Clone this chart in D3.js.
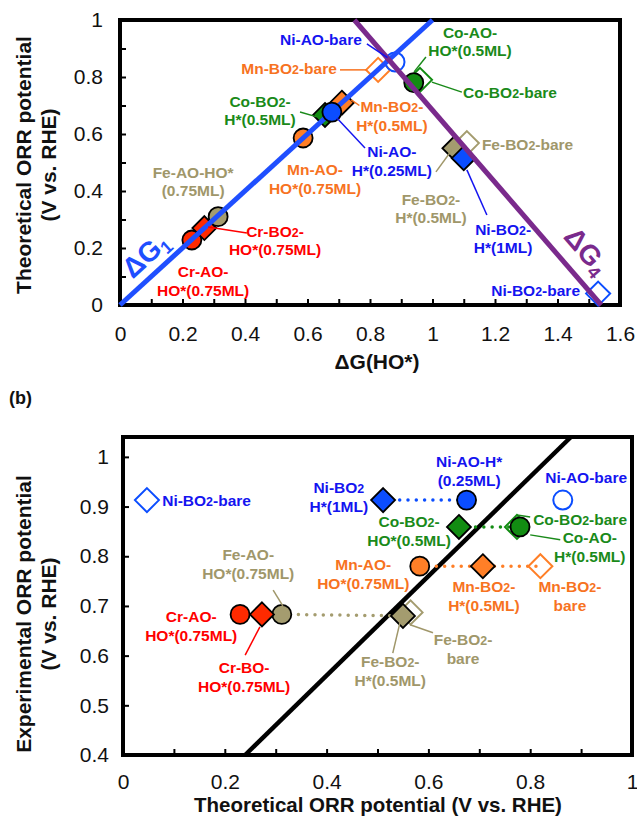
<!DOCTYPE html>
<html>
<head>
<meta charset="utf-8">
<script src="https://cdn.jsdelivr.net/npm/d3@7"></script>
<style>
  body { margin: 0; background: #fff; }
  svg { display: block; font-family: Arial, "Liberation Sans", sans-serif; }
</style>
</head>
<body>
<div id="chart"></div>
<script>
// ---- panel (a): theoretical ORR potential vs dG(HO*) ----
const namesA = ["Cr-AO-HO*", "Cr-BO2-HO*", "Fe-AO-HO*", "Mn-AO-HO*", "Co-BO2-H*", "Mn-BO2-H*",
                "Ni-AO-H*", "Mn-BO2-bare", "Ni-AO-bare", "Co-BO2-bare", "Co-AO-HO*", "Fe-BO2-bare",
                "Fe-BO2-H*", "Ni-BO2-H*", "Ni-BO2-bare"];
const metalA = ["Cr", "Cr", "Fe", "Mn", "Co", "Mn", "Ni", "Mn", "Ni", "Co", "Co", "Fe", "Fe", "Ni", "Ni"];
const markA  = ["circle", "diamond", "circle", "circle", "diamond", "diamond", "circle", "diamond",
                "circle", "diamond", "circle", "diamond", "diamond", "diamond", "diamond"];
const openA  = [false, false, false, false, false, false, false, true, true, true, false, true, false, false, true];
const dGHO   = [0.23, 0.27, 0.314, 0.586, 0.656, 0.71, 0.678, 0.826, 0.88, 0.96, 0.94, 1.11, 1.07, 1.10, 1.53];
const theoA  = [0.228, 0.27, 0.31, 0.586, 0.667, 0.71, 0.677, 0.825, 0.853, 0.79, 0.78, 0.568, 0.55, 0.515, 0.04];

const lineG1 = [[0, 0], [1, 1]];
const lineG4 = [[0.75, 1], [1.54, 0]];
const xTicksA = [0, 0.1, 0.2, 0.3, 0.4, 0.5, 0.6, 0.7, 0.8, 0.9, 1, 1.1, 1.2, 1.3, 1.4, 1.5, 1.6];
const yTicksA = [0, 0.1, 0.2, 0.3, 0.4, 0.5, 0.6, 0.7, 0.8, 0.9, 1];

// ---- panel (b): experimental vs theoretical ORR potential ----
const namesB = ["Ni-BO2-bare", "Ni-BO2-H*", "Ni-AO-H*", "Ni-AO-bare", "Co-BO2-bare", "Co-BO2-HO*",
                "Co-AO-H*", "Mn-BO2-bare", "Mn-AO-HO*", "Mn-BO2-H*", "Fe-BO2-bare", "Fe-AO-HO*",
                "Fe-BO2-H*", "Cr-AO-HO*", "Cr-BO-HO*"];
const metalB = ["Ni", "Ni", "Ni", "Ni", "Co", "Co", "Co", "Mn", "Mn", "Mn", "Fe", "Fe", "Fe", "Cr", "Cr"];
const markB  = ["diamond", "diamond", "circle", "circle", "diamond", "diamond", "circle", "diamond",
                "circle", "diamond", "diamond", "circle", "diamond", "circle", "diamond"];
const openB  = [true, false, false, true, true, false, false, true, false, false, true, false, false, false, false];
const theoB  = [0.047, 0.511, 0.675, 0.864, 0.774, 0.66, 0.78, 0.82, 0.583, 0.707, 0.565, 0.312, 0.55, 0.23, 0.273];
const expB   = [0.913, 0.913, 0.913, 0.913, 0.859, 0.859, 0.859, 0.78, 0.78, 0.78, 0.687, 0.683, 0.68, 0.683, 0.683];
// dotted connectors (indices into the B arrays)
const dottedB = [[1, 2], [5, 6], [8, 9, 7], [11, 12]];
const lineB = [[0.24, 0.4], [0.88, 1.04]];
const xTicksB = [0, 0.1, 0.2, 0.3, 0.4, 0.5, 0.6, 0.7, 0.8, 0.9, 1];
const yTicksB = [0.4, 0.5, 0.6, 0.7, 0.8, 0.9, 1];

const fillC = { Cr: "#ff2a00", Fe: "#a49c6f", Mn: "#ff7f27", Co: "#128c12", Ni: "#0b4dff" };
const textC = { Cr: "#ff0000", Fe: "#a0976a", Mn: "#f7731f", Co: "#1a8a1a", Ni: "#1414f0" };

// label annotations, in data units: lines, anchor point, text-anchor, leader line
const notesA = [
  { m: "Ni", t: ["Ni-AO-bare"], x: 0.643, y: 0.912, a: "middle", l: [0.790, 0.916, 0.856, 0.868] },
  { m: "Mn", t: ["Mn-BO2-bare"], x: 0.541, y: 0.811, a: "middle", l: [0.704, 0.825, 0.79, 0.825] },
  { m: "Co", t: ["Co-AO-", "HO*(0.5ML)"], x: 1.12, y: 0.937, a: "middle", l: [0.979, 0.870, 0.941, 0.818] },
  { m: "Co", t: ["Co-BO2-bare"], x: 1.248, y: 0.726, a: "middle", l: [1.094, 0.747, 0.998, 0.782] },
  { m: "Mn", t: ["Mn-BO2-", "H*(0.5ML)"], x: 0.87, y: 0.677, a: "middle", l: [0.74, 0.72, 0.766, 0.7] },
  { m: "Ni", t: ["Ni-AO-", "H*(0.25ML)"], x: 0.87, y: 0.519, a: "middle", l: [0.784, 0.551, 0.694, 0.656] },
  { m: "Co", t: ["Co-BO2-", "H*(0.5ML)"], x: 0.448, y: 0.695, a: "middle", l: [0.576, 0.677, 0.63, 0.66] },
  { m: "Mn", t: ["Mn-AO-", "HO*(0.75ML)"], x: 0.624, y: 0.456, a: "middle" },
  { m: "Fe", t: ["Fe-BO2-bare"], x: 1.158, y: 0.544, a: "start" },
  { m: "Fe", t: ["Fe-BO2-", "H*(0.5ML)"], x: 0.995, y: 0.351, a: "middle", l: [1.062, 0.544, 1.011, 0.467] },
  { m: "Ni", t: ["Ni-BO2-", "H*(1ML)"], x: 1.226, y: 0.246, a: "middle", l: [1.11, 0.474, 1.174, 0.316] },
  { m: "Ni", t: ["Ni-BO2-bare"], x: 1.472, y: 0.032, a: "end" },
  { m: "Fe", t: ["Fe-AO-HO*", "(0.75ML)"], x: 0.234, y: 0.446, a: "middle" },
  { m: "Cr", t: ["Cr-BO2-", "HO*(0.75ML)"], x: 0.496, y: 0.239, a: "middle", l: [0.282, 0.274, 0.406, 0.253] },
  { m: "Cr", t: ["Cr-AO-", "HO*(0.75ML)"], x: 0.266, y: 0.098, a: "middle" }
];
const notesB = [
  { m: "Ni", t: ["Ni-BO2-bare"], x: 0.077, y: 0.901, a: "start" },
  { m: "Ni", t: ["Ni-BO2", "H*(1ML)"], x: 0.424, y: 0.927, a: "middle" },
  { m: "Ni", t: ["Ni-AO-H*", "(0.25ML)"], x: 0.68, y: 0.98, a: "middle" },
  { m: "Ni", t: ["Ni-AO-bare"], x: 0.91, y: 0.948, a: "middle" },
  { m: "Co", t: ["Co-BO2-", "HO*(0.5ML)"], x: 0.562, y: 0.859, a: "middle" },
  { m: "Co", t: ["Co-BO2-bare"], x: 0.898, y: 0.863, a: "middle", l: [0.774, 0.883, 0.8, 0.879] },
  { m: "Co", t: ["Co-AO-", "H*(0.5ML)"], x: 0.917, y: 0.827, a: "middle", l: [0.8, 0.843, 0.859, 0.833] },
  { m: "Mn", t: ["Mn-AO-", "HO*(0.75ML)"], x: 0.472, y: 0.772, a: "middle" },
  { m: "Mn", t: ["Mn-BO2-", "H*(0.5ML)"], x: 0.709, y: 0.728, a: "middle" },
  { m: "Mn", t: ["Mn-BO2-", "bare"], x: 0.878, y: 0.728, a: "middle" },
  { m: "Fe", t: ["Fe-AO-", "HO*(0.75ML)"], x: 0.246, y: 0.793, a: "middle", l: [0.295, 0.732, 0.314, 0.7] },
  { m: "Cr", t: ["Cr-AO-", "HO*(0.75ML)"], x: 0.134, y: 0.668, a: "middle" },
  { m: "Cr", t: ["Cr-BO-", "HO*(0.75ML)"], x: 0.238, y: 0.565, a: "middle", l: [0.269, 0.658, 0.24, 0.601] },
  { m: "Fe", t: ["Fe-BO2-", "H*(0.5ML)"], x: 0.525, y: 0.577, a: "middle", l: [0.544, 0.666, 0.53, 0.605] },
  { m: "Fe", t: ["Fe-BO2-", "bare"], x: 0.668, y: 0.621, a: "middle", l: [0.564, 0.662, 0.609, 0.646] }
];

const W = 637, H = 817;
const svg = d3.select("#chart").append("svg").attr("width", W).attr("height", H);

const xA = d3.scaleLinear().domain([0, 1.6]).range([120, 620]);
const yA = d3.scaleLinear().domain([0, 1]).range([305, 20]);
const xB = d3.scaleLinear().domain([0, 1]).range([123, 632]);
const yB = d3.scaleLinear().domain([0.4, 1.04]).range([755, 437]);

const fmt = d => (Math.abs(d) < 1e-9 ? "0" : d3.format("~g")(+d.toFixed(2)));

function drawAxes(x, y, xt, yt, xEvery, yEvery, xPad, yPad) {
  const g = svg.append("g");
  const xr = x.range(), yr = y.range();
  g.append("g")
    .attr("transform", "translate(0," + yr[0] + ")")
    .call(d3.axisBottom(x).tickValues(xt).tickSizeInner(-6).tickSizeOuter(0).tickPadding(xPad)
      .tickFormat((d, i) => (i % xEvery === 0 ? fmt(d) : "")))
    .call(s => s.select(".domain").remove());
  g.append("g")
    .attr("transform", "translate(" + xr[0] + ",0)")
    .call(d3.axisLeft(y).tickValues(yt).tickSizeInner(-6).tickSizeOuter(0).tickPadding(yPad)
      .tickFormat((d, i) => (i % yEvery === 0 ? fmt(d) : "")))
    .call(s => s.select(".domain").remove());
  g.selectAll(".tick line").attr("stroke", "#000").attr("stroke-width", 2);
  g.selectAll(".tick text").attr("font-size", 21).attr("fill", "#111")
    .attr("font-family", "Arial, 'Liberation Sans', sans-serif");
  g.append("rect")
    .attr("x", xr[0]).attr("y", yr[1])
    .attr("width", xr[1] - xr[0]).attr("height", yr[0] - yr[1])
    .attr("fill", "none").attr("stroke", "#000").attr("stroke-width", 4);
}

// text with small "2" after "O"
function addLine(sel, str) {
  const parts = str.split(/(?<=O)2/);
  parts.forEach((p, i) => {
    sel.append("tspan").text(p);
    if (i < parts.length - 1) sel.append("tspan").attr("font-size", "80%").text("2");
  });
}

function drawNotes(notes, x, y, lh) {
  const g = svg.append("g");
  notes.forEach(n => {
    if (n.l) {
      g.append("line")
        .attr("x1", x(n.l[0])).attr("y1", y(n.l[1]))
        .attr("x2", x(n.l[2])).attr("y2", y(n.l[3]))
        .attr("stroke", textC[n.m]).attr("stroke-width", 1.5);
    }
    n.t.forEach((s, i) => {
      const t = g.append("text")
        .attr("x", x(n.x)).attr("y", y(n.y) + i * lh)
        .attr("text-anchor", n.a)
        .attr("font-size", 15.5).attr("font-weight", "bold")
        .attr("fill", textC[n.m]);
      addLine(t, s);
    });
  });
}

function drawMarks(g, xs, ys, marks, opens, metals, x, y, which) {
  xs.forEach((v, i) => {
    if (!which(i)) return;
    const cx = x(v), cy = y(ys[i]);
    const open = opens[i];
    let el;
    if (marks[i] === "circle") {
      el = g.append("circle").attr("cx", cx).attr("cy", cy).attr("r", 9.5);
    } else {
      const s = 12;
      el = g.append("path")
        .attr("d", "M0," + (-s) + "L" + s + ",0L0," + s + "L" + (-s) + ",0Z")
        .attr("transform", "translate(" + cx + "," + cy + ")");
    }
    if (open) el.attr("fill", "none").attr("stroke", fillC[metals[i]]).attr("stroke-width", 2);
    else el.attr("fill", fillC[metals[i]]).attr("stroke", "#000").attr("stroke-width", 1.8);
  });
}

// ---------------- panel (a) ----------------
drawAxes(xA, yA, xTicksA, yTicksA, 2, 2, 21, 17);
const gA = svg.append("g");
const lineGen = (x, y) => d3.line().x(d => x(d[0])).y(d => y(d[1]));
drawMarks(gA, dGHO, theoA, markA, openA, metalA, xA, yA, i => openA[i]);
drawMarks(gA, dGHO, theoA, markA, openA, metalA, xA, yA, i => !openA[i] && metalA[i] !== "Ni");
gA.append("path").datum(lineG1).attr("d", lineGen(xA, yA))
  .attr("fill", "none").attr("stroke", "#1f4fff").attr("stroke-width", 5);
drawMarks(gA, dGHO, theoA, markA, openA, metalA, xA, yA, i => !openA[i] && metalA[i] === "Ni");
gA.append("path").datum(lineG4).attr("d", lineGen(xA, yA))
  .attr("fill", "none").attr("stroke", "#7a2a8c").attr("stroke-width", 5);

// dG labels rotated along their lines
function angleOf(seg, x, y) {
  return Math.atan2(y(seg[1][1]) - y(seg[0][1]), x(seg[1][0]) - x(seg[0][0])) * 180 / Math.PI;
}
function dgLabel(px, py, ang, sub, color) {
  const t = svg.append("text")
    .attr("transform", "translate(" + px + "," + py + ") rotate(" + ang + ")")
    .attr("text-anchor", "middle").attr("font-size", 28).attr("font-weight", "bold").attr("fill", color);
  t.append("tspan").text("ΔG");
  t.append("tspan").attr("font-size", 18).attr("dy", 5).text(sub);
}
dgLabel(xA(0.102), yA(0.151), angleOf(lineG1, xA, yA), "1", "#1f4fff");
dgLabel(xA(1.47), yA(0.168), angleOf([lineG4[1], lineG4[0]], xA, yA) + 180, "4", "#7a2a8c");

drawNotes(notesA, xA, yA, 18.5);

// axis titles (a)
svg.append("text").attr("transform", "translate(31,165) rotate(-90)")
  .attr("text-anchor", "middle").attr("font-size", 21).attr("font-weight", "bold").attr("fill", "#111")
  .call(t => {
    t.append("tspan").attr("x", 0).attr("y", 0).text("Theoretical ORR potential");
    t.append("tspan").attr("x", 0).attr("y", 25).text("(V vs. RHE)");
  });
svg.append("text").attr("x", 377).attr("y", 369)
  .attr("text-anchor", "middle").attr("font-size", 21).attr("font-weight", "bold").attr("fill", "#111")
  .text("ΔG(HO*)");

svg.append("text").attr("x", 9).attr("y", 404)
  .attr("font-size", 18).attr("font-weight", "bold").attr("fill", "#111").text("(b)");

// ---------------- panel (b) ----------------
drawAxes(xB, yB, xTicksB, yTicksB, 2, 1, 19, 14);
const gB = svg.append("g");
gB.append("path").datum(lineB).attr("d", lineGen(xB, yB))
  .attr("fill", "none").attr("stroke", "#000").attr("stroke-width", 4.5);
dottedB.forEach(idx => {
  gB.append("path")
    .datum(idx.map(i => [theoB[i], expB[i]]))
    .attr("d", lineGen(xB, yB))
    .attr("fill", "none").attr("stroke", fillC[metalB[idx[0]]])
    .attr("stroke-width", 3.5).attr("stroke-linecap", "round").attr("stroke-dasharray", "0,8.3");
});
drawMarks(gB, theoB, expB, markB, openB, metalB, xB, yB, i => openB[i]);
drawMarks(gB, theoB, expB, markB, openB, metalB, xB, yB, i => !openB[i]);

drawNotes(notesB, xB, yB, 19);

svg.append("text").attr("transform", "translate(31,614) rotate(-90)")
  .attr("text-anchor", "middle").attr("font-size", 21).attr("font-weight", "bold").attr("fill", "#111")
  .call(t => {
    t.append("tspan").attr("x", 0).attr("y", 0).text("Experimental ORR potential");
    t.append("tspan").attr("x", 0).attr("y", 25).text("(V vs. RHE)");
  });
svg.append("text").attr("x", 378).attr("y", 812)
  .attr("text-anchor", "middle").attr("font-size", 20.5).attr("font-weight", "bold").attr("fill", "#111")
  .text("Theoretical ORR potential (V vs. RHE)");
</script>
</body>
</html>
